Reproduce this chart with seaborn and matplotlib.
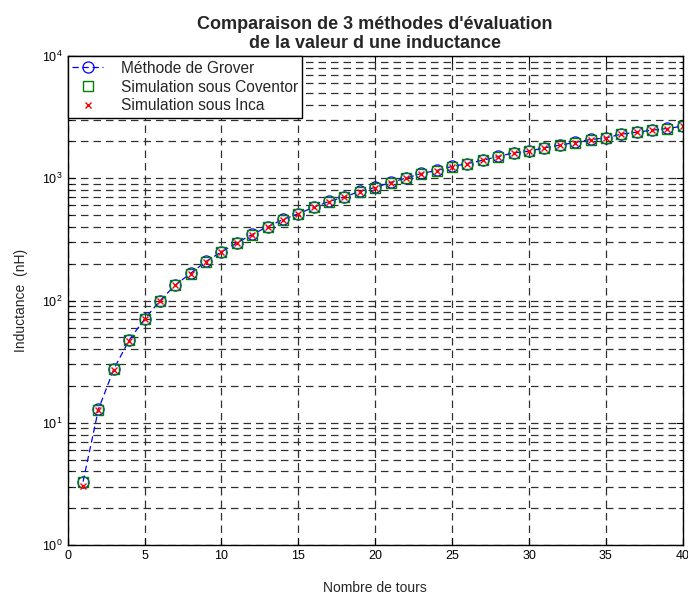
import numpy as np
import pandas as pd
import matplotlib
matplotlib.use('Agg')
import matplotlib.pyplot as plt
from matplotlib.ticker import LogLocator, NullFormatter, MultipleLocator
import seaborn as sns

# Nombre de tours
tours = list(range(1, 41))

# Inductance (nH)
grover = [3.3, 12.9, 27.5, 47.5, 70.5, 99.5, 134, 167, 209, 250,
          296, 347, 401, 460, 512, 580, 646, 705, 780, 841,
          925, 1002, 1095, 1158, 1249, 1320, 1405, 1507, 1614, 1667,
          1774, 1866, 1963, 2077, 2139, 2293, 2383, 2473, 2553, 2667]
coventor = [3.25, 12.8, 27.3, 47.2, 70.2, 99.0, 133, 166, 208, 249,
            295, 346, 400, 458, 510, 578, 644, 703, 778, 839,
            922, 1000, 1092, 1155, 1246, 1318, 1402, 1504, 1610, 1664,
            1770, 1862, 1960, 2072, 2135, 2288, 2378, 2468, 2548, 2660]
inca = [3.05, 12.7, 27.2, 47.0, 70.0, 98.8, 133, 166, 208, 249,
        295, 346, 400, 459, 511, 579, 645, 704, 779, 840,
        923, 1001, 1093, 1156, 1247, 1319, 1403, 1505, 1612, 1665,
        1772, 1864, 1961, 2074, 2137, 2290, 2380, 2470, 2550, 2663]

df = pd.DataFrame({'tours': tours, 'grover': grover,
                   'coventor': coventor, 'inca': inca})

sns.set_style('ticks')
plt.rcParams['font.family'] = ['Liberation Sans', 'DejaVu Sans']

fig = plt.figure(figsize=(6.88, 5.94), dpi=100)
ax = fig.add_axes([0.0984, 0.0825, 0.894, 0.8232])

sns.lineplot(data=df, x='tours', y='grover', ax=ax, color='blue',
             linestyle=(0, (5, 3)), linewidth=0.9, marker='o', markersize=8,
             markerfacecolor='none', markeredgecolor='blue',
             markeredgewidth=0.9, label='Méthode de Grover')
sns.lineplot(data=df, x='tours', y='coventor', ax=ax, color='green',
             linestyle='none', marker='s', markersize=7,
             markerfacecolor='none', markeredgecolor='green',
             markeredgewidth=1.0, label='Simulation sous Coventor')
sns.lineplot(data=df, x='tours', y='inca', ax=ax, color='red',
             linestyle='none', marker='x', markersize=4.5,
             markeredgecolor='red', markeredgewidth=1.0,
             label='Simulation sous Inca')

ax.set_yscale('log')
ax.set_xlim(0, 40)
ax.set_ylim(1, 1e4)
ax.xaxis.set_major_locator(MultipleLocator(5))
ax.yaxis.set_major_locator(LogLocator(base=10, numticks=10))
ax.yaxis.set_minor_locator(LogLocator(base=10, subs=np.arange(2, 10), numticks=20))
ax.yaxis.set_minor_formatter(NullFormatter())

ax.grid(True, which='major', axis='both', color='#303030',
        linestyle=(0, (6, 4)), linewidth=0.9)
ax.grid(True, which='minor', axis='y', color='#303030',
        linestyle=(0, (6, 4)), linewidth=0.9)

ax.tick_params(which='both', direction='in', top=True, right=True,
               labelsize=9, colors='black')
ax.tick_params(which='major', length=5)
ax.tick_params(which='minor', length=3)
for sp in ax.spines.values():
    sp.set_visible(True)
    sp.set_color('black')
    sp.set_linewidth(1.0)

ax.set_xlabel('Nombre de tours', fontsize=10, labelpad=14)
ax.set_ylabel('Inductance  (nH)', fontsize=10, labelpad=10)
ax.set_title("Comparaison de 3 méthodes d'évaluation\nde la valeur d une inductance",
             fontsize=13, fontweight='bold', pad=6, linespacing=1.15)

leg = ax.legend(loc='upper left', fontsize=11.2, frameon=True, fancybox=False,
                borderaxespad=0, handlelength=2.0, borderpad=0.3,
                labelspacing=0.25, handletextpad=1.1)
leg.get_frame().set_edgecolor('black')
leg.get_frame().set_linewidth(1.0)
leg.get_frame().set_alpha(1)

fig.savefig('out.png', dpi=100)
